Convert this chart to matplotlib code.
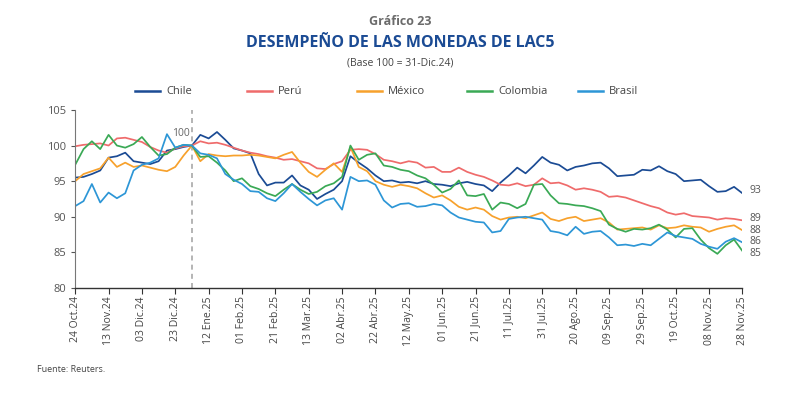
import matplotlib
matplotlib.use("Agg")
import matplotlib.pyplot as plt
from matplotlib.lines import Line2D
import pandas as pd

plt.rcParams['font.family'] = ['Open Sans', 'DejaVu Sans']

# Values sampled every 5 days, 24 Oct 2024 .. 28 Nov 2025 (base 100 = 31-Dic.24)
chile = [95.5, 95.6, 96.0, 96.5, 98.3, 98.5, 99.0, 97.8, 97.6, 97.4,
         97.8, 99.3, 99.5, 99.8, 100.0, 101.5, 101.0, 101.9, 100.8, 99.6,
         99.3, 98.9, 96.0, 94.4, 94.8, 94.8, 95.8, 94.4, 93.8, 92.5,
         93.2, 93.8, 95.0, 98.5, 97.6, 96.8, 95.8, 95.0, 95.1, 94.8,
         94.9, 94.7, 95.0, 94.6, 94.5, 94.3, 94.7, 94.9, 94.6, 94.4,
         93.6, 94.8, 95.8, 96.9, 96.1, 97.2, 98.4, 97.6, 97.3, 96.5,
         97.0, 97.2, 97.5, 97.6, 96.8, 95.7, 95.8, 95.9, 96.6, 96.5,
         97.1, 96.4, 96.0, 95.0, 95.1, 95.2, 94.3, 93.5, 93.6, 94.2,
         93.3]
peru = [99.9, 100.1, 100.2, 100.3, 100.0, 101.0, 101.1, 100.8, 100.5, 99.8,
        99.3, 99.0, 99.6, 99.9, 100.0, 100.6, 100.3, 100.4, 100.1, 99.7,
        99.3, 99.0, 98.8, 98.5, 98.3, 98.0, 98.1, 97.8, 97.5, 96.8,
        96.7, 97.4, 97.8, 99.4, 99.5, 99.4, 98.8, 98.0, 97.8, 97.5,
        97.8, 97.6, 96.9, 97.0, 96.3, 96.3, 96.9, 96.3, 95.9, 95.6,
        95.1, 94.5, 94.4, 94.7, 94.3, 94.5, 95.4, 94.7, 94.8, 94.4,
        93.8, 94.0, 93.8, 93.5, 92.8, 92.9, 92.7, 92.3, 91.9, 91.5,
        91.2, 90.6, 90.3, 90.5, 90.1, 90.0, 89.9, 89.6, 89.8, 89.7,
        89.5]
mexico = [95.0, 96.0, 96.4, 96.8, 98.3, 97.0, 97.6, 97.0, 97.2, 96.9,
          96.6, 96.4, 97.0, 98.6, 100.0, 97.8, 98.8, 98.6, 98.5, 98.6,
          98.6, 98.7, 98.6, 98.4, 98.2, 98.7, 99.1, 97.6, 96.3, 95.6,
          96.6, 97.5, 96.3, 99.8, 97.0, 96.4, 95.0, 94.5, 94.2, 94.5,
          94.3, 94.0, 93.3, 92.7, 93.0, 92.3, 91.4, 91.0, 91.3, 91.0,
          90.1, 89.6, 89.9, 90.0, 89.8, 90.2, 90.6, 89.7, 89.4, 89.8,
          90.0, 89.4, 89.6, 89.8, 89.2, 88.2, 88.3, 88.4, 88.5, 88.2,
          88.8, 88.4, 88.5, 88.8, 88.6, 88.5, 87.9, 88.3, 88.6, 88.8,
          88.1]
colombia = [97.3, 99.5, 100.6, 99.5, 101.5, 100.0, 99.7, 100.2, 101.2, 99.8,
            98.6, 98.8, 99.7, 100.1, 100.0, 98.4, 98.5, 97.6, 96.5, 95.0,
            95.4, 94.3, 93.9, 93.3, 92.9, 93.8, 94.6, 93.8, 93.2, 93.5,
            94.3, 94.7, 95.6, 100.0, 98.0, 98.7, 98.9, 97.2, 97.0, 96.6,
            96.4, 95.8, 95.4, 94.5, 93.4, 93.9, 95.1, 93.0, 92.9, 93.2,
            91.0, 92.0, 91.8, 91.2, 91.8, 94.5, 94.6, 93.0, 91.9, 91.8,
            91.6, 91.5, 91.2, 90.8, 88.9, 88.3, 87.9, 88.3, 88.2, 88.4,
            88.9, 88.2, 87.1, 88.3, 88.4, 86.8, 85.6, 84.8, 86.0, 86.8,
            85.2]
brasil = [91.5, 92.2, 94.6, 92.0, 93.4, 92.6, 93.3, 96.5, 97.3, 97.6,
          98.2, 101.6, 99.7, 100.1, 100.0, 98.9, 98.7, 98.2, 96.0, 95.2,
          94.6, 93.6, 93.5, 92.6, 92.2, 93.3, 94.6, 93.5, 92.5, 91.6,
          92.3, 92.6, 91.0, 95.6, 95.0, 95.1, 94.5, 92.3, 91.3, 91.8,
          91.9, 91.4, 91.5, 91.8, 91.6, 90.6, 89.9, 89.6, 89.3, 89.2,
          87.8, 88.0, 89.7, 89.9, 90.0, 89.8, 89.6, 88.0, 87.8, 87.4,
          88.6, 87.6, 87.9, 88.0, 87.1, 86.0, 86.1, 85.9, 86.2, 86.0,
          86.9, 87.8, 87.3, 87.1, 86.9, 86.2, 85.8, 85.5, 86.5, 87.0,
          86.4]

names = ["Chile", "Perú", "México", "Colombia", "Brasil"]
colors = ["#1b4b94", "#ef6b6b", "#f7a12c", "#3aa955", "#2d96d6"]
end_labels = ["93", "89", "88", "85", "86"]
label_shift = [0.4, 0.2, 0.0, -0.4, 0.1]   # nudge so the end labels don't collide

tick_labels = ["24 Oct.24", "13 Nov.24", "03 Dic.24", "23 Dic.24", "12 Ene.25",
               "01 Feb.25", "21 Feb.25", "13 Mar.25", "02 Abr.25", "22 Abr.25",
               "12 May.25", "01 Jun.25", "21 Jun.25", "11 Jul.25", "31 Jul.25",
               "20 Ago.25", "09 Sep.25", "29 Sep.25", "19 Oct.25", "08 Nov.25",
               "28 Nov.25"]

dates = pd.date_range("2024-10-24", periods=len(chile), freq="5D")
tick_dates = pd.date_range("2024-10-24", periods=len(tick_labels), freq="20D")
base_line = pd.Timestamp("2025-01-02")

fig = plt.figure(figsize=(8, 3.94), dpi=100)
ax = fig.add_axes([0.094, 0.269, 0.834, 0.452])

series = [chile, peru, mexico, colombia, brasil]
for vals, c in zip(series, colors):
    ax.plot(dates, vals, color=c, lw=1.25, solid_joinstyle="round")

ax.axvline(base_line, color="#a8a8a8", lw=1.2, ls=(0, (3, 2.5)), zorder=0)
ax.text(pd.Timestamp("2024-12-21"), 100.9, "100", fontsize=7.5, color="#666666",
        va="bottom", ha="left")

for vals, lab, sh in zip(series, end_labels, label_shift):
    ax.text(dates[-1] + pd.Timedelta(days=4), vals[-1] + sh, lab, fontsize=7.5,
            color="#555555", va="center", ha="left")

ax.set_xlim(dates[0], dates[-1])
ax.set_ylim(80, 105)
ax.set_yticks([80, 85, 90, 95, 100, 105])
ax.set_xticks(tick_dates)
ax.set_xticklabels(tick_labels, rotation=90, fontsize=7.5, color="#444444")
ax.tick_params(axis="y", labelsize=8, colors="#555555", length=3, width=0.8)
ax.tick_params(axis="x", length=4, width=0.8, colors="#333333", pad=2)
for lbl in ax.get_xticklabels():
    lbl.set_color("#444444")

ax.spines["top"].set_visible(False)
ax.spines["right"].set_visible(False)
ax.spines["left"].set_color("#777777")
ax.spines["bottom"].set_color("#333333")
ax.spines["bottom"].set_linewidth(1.0)

# titles
fig.text(0.5, 0.945, "Gráfico 23", ha="center", va="center", fontsize=9,
         fontweight="bold", color="#6b6b6b")
fig.text(0.5, 0.892, "DESEMPEÑO DE LAS MONEDAS DE LAC5", ha="center", va="center",
         fontsize=11.5, fontweight="bold", color="#1b4b94")
fig.text(0.5, 0.84, "(Base 100 = 31-Dic.24)", ha="center", va="center",
         fontsize=7.5, color="#444444")

# legend, evenly spaced entries
legend_x = [135, 247, 357, 467, 578]
for x0, name, c in zip(legend_x, names, colors):
    fig.add_artist(Line2D([x0 / 800, (x0 + 25) / 800], [1 - 91 / 394] * 2,
                          color=c, lw=1.8))
    fig.text((x0 + 31) / 800, 1 - 91 / 394, name, fontsize=8, color="#444444",
             va="center", ha="left")

fig.text(37 / 800, 1 - 369 / 394, "Fuente: Reuters.", fontsize=6.5, color="#444444",
         va="center", ha="left")

fig.savefig("out.png", dpi=100)
